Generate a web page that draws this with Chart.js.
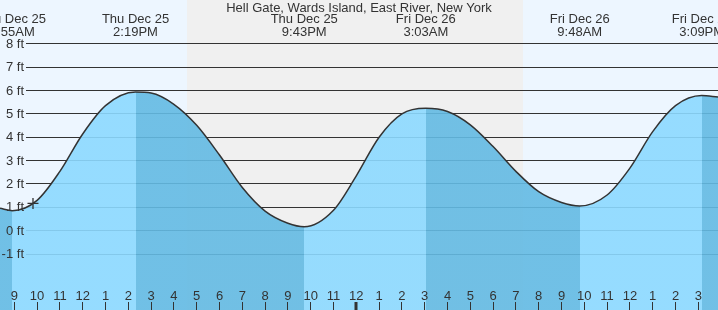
<!DOCTYPE html>
<html><head><meta charset="utf-8">
<script src="https://cdn.jsdelivr.net/npm/chart.js@4"></script>
<style>html,body{margin:0;padding:0;background:#edf6ff;overflow:hidden}canvas{display:block}</style>
</head><body>
<canvas id="c" width="718" height="310"></canvas>
<script>
// ---- data (hours since Thu Dec 25 00:00, feet) ----
const tideHours = [8.373, 8.917, 10, 11, 12, 13, 14.317, 15, 16, 17, 18, 19, 20, 21, 21.717, 23, 24, 25, 26, 27.05, 28, 29, 30, 31, 32, 33, 33.8, 35, 36, 37, 38, 39.15, 39.864];
const tideFeet  = [0.96, 0.86, 1.3, 2.54, 4.14, 5.35, 5.93, 5.89, 5.41, 4.51, 3.24, 1.85, 0.84, 0.32, 0.17, 0.88, 2.35, 4.0, 5.0, 5.24, 5.1, 4.53, 3.6, 2.54, 1.67, 1.21, 1.06, 1.53, 2.68, 4.24, 5.35, 5.78, 5.72];
const nowHour = [9.82];
const nowFeet = [1.17];
const extremeHours = [8.917, 14.317, 21.717, 27.05, 33.8, 39.15];
const extremeDays  = ['Thu Dec 25', 'Thu Dec 25', 'Thu Dec 25', 'Fri Dec 26', 'Fri Dec 26', 'Fri Dec 26'];
const extremeTimes = ['8:55AM', '2:19PM', '9:43PM', '3:03AM', '9:48AM', '3:09PM'];
const nightStart = 16.59;
const nightEnd = 31.32;
const hourTicks  = [9,10,11,12,13,14,15,16,17,18,19,20,21,22,23,24,25,26,27,28,29,30,31,32,33,34,35,36,37,38,39];
const hourLabels = ['9','10','11','12','1','2','3','4','5','6','7','8','9','10','11','12','1','2','3','4','5','6','7','8','9','10','11','12','1','2','3'];
const feetTicks  = [-1, 0, 1, 2, 3, 4, 5, 6, 7, 8];
const feetLabels = ['-1 ft', '0 ft', '1 ft', '2 ft', '3 ft', '4 ft', '5 ft', '6 ft', '7 ft', '8 ft'];
const title = 'Hell Gate, Wards Island, East River, New York';

const FONT = '"Liberation Sans", Arial, sans-serif';
const TXT = '#333';
const flood = 'rgba(140,217,255,0.9)';
const ebb = 'rgba(99,186,227,0.9)';

// horizontal hard-stop gradient: ebb before each low, flood after it, alternating at every extreme
function phaseFill(ctx) {
  const chart = ctx.chart;
  const a = chart.chartArea;
  if (!a) return flood;
  const x = chart.scales.x;
  const w = a.right - a.left;
  const g = chart.ctx.createLinearGradient(a.left, 0, a.right, 0);
  let cur = ebb;
  g.addColorStop(0, cur);
  extremeHours.forEach(h => {
    const f = Math.min(1, Math.max(0, (x.getPixelForValue(h) - a.left) / w));
    const next = cur === ebb ? flood : ebb;
    g.addColorStop(f, cur);
    g.addColorStop(f, next);
    cur = next;
  });
  g.addColorStop(1, cur);
  return g;
}

const deco = {
  id: 'deco',
  beforeDatasetsDraw(chart) {
    const {ctx, chartArea: a, scales: {x, y}} = chart;
    ctx.save();
    ctx.fillStyle = '#edf6ff';
    ctx.fillRect(a.left, a.top, a.right - a.left, a.bottom - a.top);
    const n0 = Math.round(x.getPixelForValue(nightStart));
    const n1 = Math.round(x.getPixelForValue(nightEnd));
    ctx.fillStyle = '#f0f0f0';
    ctx.fillRect(n0, a.top, n1 - n0, a.bottom - a.top);
    ctx.strokeStyle = '#333';
    ctx.lineWidth = 1;
    feetTicks.forEach(v => {
      const py = Math.floor(y.getPixelForValue(v)) + 0.5;
      ctx.beginPath(); ctx.moveTo(26, py); ctx.lineTo(a.right, py); ctx.stroke();
    });
    ctx.restore();
  },
  afterDatasetsDraw(chart) {
    const {ctx, chartArea: a, scales: {x, y}} = chart;
    ctx.save();
    ctx.fillStyle = TXT;
    ctx.font = '13px ' + FONT;
    ctx.textAlign = 'right'; ctx.textBaseline = 'middle';
    feetTicks.forEach((v, i) => ctx.fillText(feetLabels[i], 24, y.getPixelForValue(v) + 0.5));
    ctx.textAlign = 'center';
    ctx.strokeStyle = '#333';
    hourTicks.forEach((h, i) => {
      const px = x.getPixelForValue(h);
      ctx.fillText(hourLabels[i], px, 296);
      const mid = (h % 24 === 0);
      ctx.lineWidth = mid ? 3 : 1;
      const lx = mid ? Math.round(px) : Math.floor(px) + 0.5;
      ctx.beginPath(); ctx.moveTo(lx, 302); ctx.lineTo(lx, a.bottom); ctx.stroke();
    });
    ctx.fillText(title, 359, 8);
    extremeHours.forEach((h, i) => {
      const px = x.getPixelForValue(h);
      ctx.fillText(extremeDays[i], px, 19.5);
      ctx.fillText(extremeTimes[i], px, 32);
    });
    ctx.restore();
  }
};

new Chart(document.getElementById('c'), {
  type: 'line',
  data: {
    datasets: [
      {
        type: 'scatter',
        data: nowHour.map((h, i) => ({x: h, y: nowFeet[i]})),
        pointStyle: 'cross', pointRadius: 5.5, pointBorderWidth: 1.3,
        borderColor: '#333', backgroundColor: '#333', showLine: false
      },
      {
        data: tideHours.map((h, i) => ({x: h, y: tideFeet[i]})),
        borderColor: '#333', borderWidth: 1.5,
        pointRadius: 0,
        cubicInterpolationMode: 'monotone',
        fill: 'start',
        backgroundColor: phaseFill
      }
    ]
  },
  options: {
    responsive: false,
    animation: false,
    devicePixelRatio: 1,
    layout: {padding: 0, autoPadding: false},
    events: [],
    plugins: {legend: {display: false}, tooltip: {enabled: false}},
    scales: {
      x: {type: 'linear', min: 8.373, max: 39.864, display: false},
      y: {type: 'linear', min: -3.39, max: 9.87, display: false}
    }
  },
  plugins: [deco]
});
</script>
</body></html>
